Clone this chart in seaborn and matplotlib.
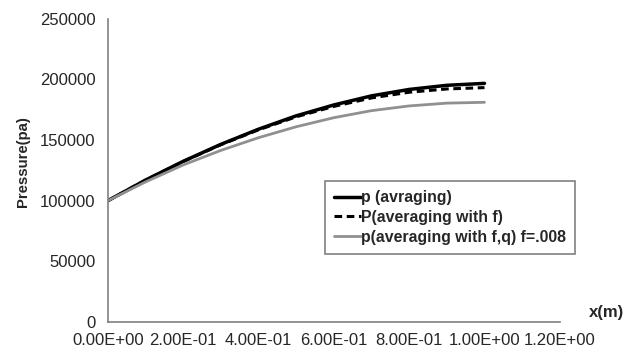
import numpy as np
import pandas as pd
import seaborn as sns
import matplotlib
matplotlib.use('Agg')
import matplotlib.pyplot as plt

# distance along pipe (m)
x_m = [0.0, 0.1, 0.2, 0.3, 0.4, 0.5, 0.6, 0.7, 0.8, 0.9, 1.0]

# pressure curves (pa)
p_avraging = [100000, 117000, 132500, 146500, 159000, 170000, 179000, 186500, 191800, 195200, 196800]
p_with_f = [100000, 117000, 132300, 146200, 158500, 169200, 177800, 184800, 189500, 192200, 193300]
p_with_fq = [100000, 115500, 129500, 141500, 152000, 161000, 168500, 174300, 178200, 180500, 181200]

labels = ['p (avraging)', 'P(averaging with f)', 'p(averaging with f,q) f=.008']

sns.set_style('white')
plt.rcParams['font.family'] = ['Liberation Sans', 'DejaVu Sans']

fig = plt.figure(figsize=(6.34, 3.56), dpi=100)
ax = fig.add_axes([0.170, 0.0955, 0.713, 0.8515])

sns.lineplot(x=x_m, y=p_avraging, ax=ax, color='black', linewidth=2.5, label=labels[0])
sns.lineplot(x=x_m, y=p_with_f, ax=ax, color='black', linewidth=2.2, linestyle=(0, (2.5, 1.5)), label=labels[1])
sns.lineplot(x=x_m, y=p_with_fq, ax=ax, color='#909090', linewidth=2.0, label=labels[2])

ax.set_xlim(0, 1.2)
ax.set_ylim(0, 250000)
ax.set_xticks(np.arange(0, 1.21, 0.2))
ax.set_xticklabels(['0.00E+00', '2.00E-01', '4.00E-01', '6.00E-01', '8.00E-01', '1.00E+00', '1.20E+00'])
ax.set_yticks(range(0, 250001, 50000))
ax.tick_params(axis='both', labelsize=12, length=5, width=1, color='#808080', direction='out', pad=4)
ax.tick_params(axis='x', pad=3)

sns.despine(ax=ax)
for side in ['left', 'bottom']:
    ax.spines[side].set_color('#808080')
    ax.spines[side].set_linewidth(1.2)

ax.set_ylabel('Pressure(pa)', fontsize=10.7, fontweight='bold')
ax.yaxis.set_label_coords(-0.172, 0.53)
ax.set_xlabel('')
fig.text(0.957, 0.123, 'x(m)', fontsize=12, fontweight='bold', ha='center', va='center')

leg = ax.legend(loc='center', bbox_to_anchor=(0.757, 0.345), fontsize=11.4,
                handlelength=1.7, handletextpad=0.0, borderpad=0.6, labelspacing=0.3,
                fancybox=False, framealpha=1, edgecolor='#808080')
for t in leg.get_texts():
    t.set_fontweight('bold')
leg.get_frame().set_linewidth(1.2)

fig.savefig('out.png', dpi=100)
